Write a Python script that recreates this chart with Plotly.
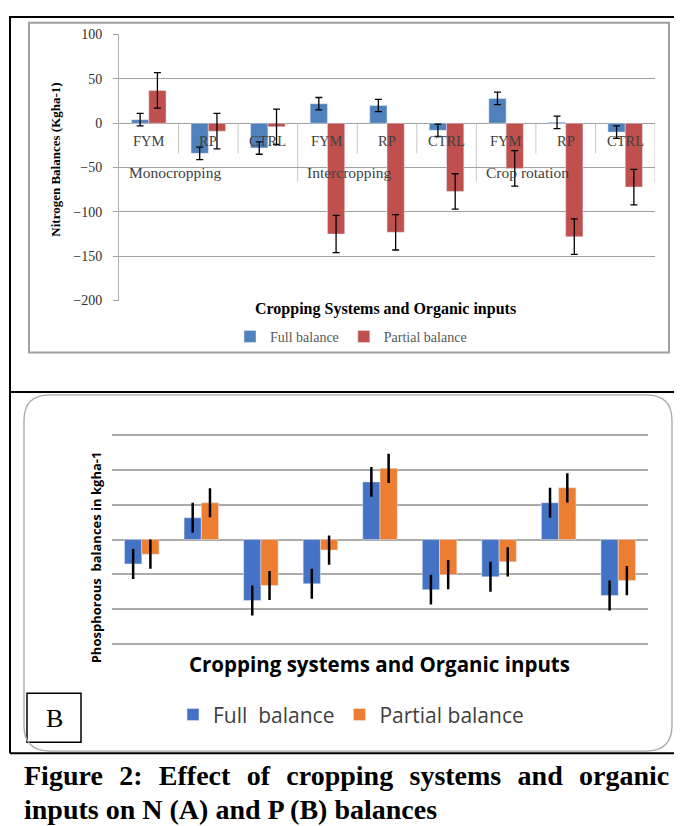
import plotly.graph_objects as go

W, H = 682, 826

# data
categories = ["FYM", "RP", "CTRL", "FYM", "RP", "CTRL", "FYM", "RP", "CTRL"]
systems = ["Monocropping", "Intercropping", "Crop rotation"]

n_full = [4, -34, -28, 22, 20, -8, 28, 1, -10]
n_full_err = [7, 7, 7, 7, 7, 7, 7, 7, 7]
n_partial = [37, -9, -4, -125, -123, -77, -51, -128, -72]
n_partial_err = [20, 20, 20, 21, 20, 20, 20, 20, 20]

p_full = [-7.0, 6.3, -17.5, -12.7, 16.6, -14.4, -10.7, 10.6, -16.1]
p_full_err = [4.3, 4.3, 4.3, 4.3, 4.3, 4.3, 4.3, 4.3, 4.3]
p_partial = [-4.2, 10.6, -13.2, -3.0, 20.5, -10.1, -6.4, 14.9, -11.8]
p_partial_err = [4.2, 4.2, 4.2, 4.2, 4.2, 4.2, 4.2, 4.2, 4.2]

# the page has an 8px body margin, so screen pixels are shifted by 8
def px(x):
    return (x - 8) / W


def py(y):
    return 1 - (y - 8) / H


SERIF = "Liberation Serif"
SANS = "Open Sans"
xs = list(range(len(categories)))

fig = go.Figure()

# panel A - nitrogen
fig.add_trace(go.Bar(x=xs, y=n_full, name="Full balance", marker_color="#4F81BD",
                     error_y=dict(type="data", array=n_full_err, color="black", thickness=1.3, width=3.5),
                     xaxis="x", yaxis="y", legend="legend"))
fig.add_trace(go.Bar(x=xs, y=n_partial, name="Partial balance", marker_color="#C0504D",
                     error_y=dict(type="data", array=n_partial_err, color="black", thickness=1.3, width=3.5),
                     xaxis="x", yaxis="y", legend="legend"))

# panel B - phosphorous
fig.add_trace(go.Bar(x=xs, y=p_full, name="Full\u00a0 balance", marker_color="#4472C4",
                     error_y=dict(type="data", array=p_full_err, color="black", thickness=2.5, width=0),
                     xaxis="x2", yaxis="y2", legend="legend2"))
fig.add_trace(go.Bar(x=xs, y=p_partial, name="Partial balance", marker_color="#ED7D31",
                     error_y=dict(type="data", array=p_partial_err, color="black", thickness=2.5, width=0),
                     xaxis="x2", yaxis="y2", legend="legend2"))

annotations = []
# category labels under zero line (panel A)
for i, lab in enumerate(categories):
    annotations.append(dict(x=i, y=0, xref="x", yref="y", text=lab, showarrow=False,
                            xanchor="center", yanchor="top", yshift=-8,
                            font=dict(family=SERIF, size=14.5, color="#404040")))
for g, name in enumerate(systems):
    annotations.append(dict(x=g * 3 - 0.5 + 0.13, y=0, xref="x", yref="y", text=name, showarrow=False,
                            xanchor="left", yanchor="top", yshift=-39,
                            font=dict(family=SERIF, size=15.5, color="#404040")))

caption1 = "Figure 2: Effect of cropping systems and"
caption1_end = "organic"
caption2 = "inputs on N (A) and P (B) balances"

# axis titles, panel letter and caption
annotations += [
    dict(x=px(56), y=py(156), text="<b>Nitrogen Balances (Kgha-1)</b>", textangle=-90,
         font=dict(family=SERIF, size=13, color="black")),
    dict(x=px(386), y=py(308), text="<b>Cropping Systems and Organic inputs</b>",
         font=dict(family=SERIF, size=16, color="black")),
    dict(x=px(96), y=py(560), text="<b>Phosphorous  balances in kgha-1</b>", textangle=-90,
         font=dict(family=SANS, size=13, color="black")),
    dict(x=px(379), y=py(668), text="<b>Cropping systems and Organic inputs</b>",
         font=dict(family=SANS, size=20.5, color="black")),
    dict(x=px(55), y=py(724), text="B", font=dict(family=SERIF, size=26, color="black")),
    dict(x=px(22), y=py(782), xanchor="left",
         text="<b>" + " \u00a0\u200a".join(caption1.split(" ")) + "</b>",
         font=dict(family=SERIF, size=28, color="black")),
    dict(x=px(671), y=py(782), xanchor="right", text="<b>" + caption1_end + "</b>",
         font=dict(family=SERIF, size=28, color="black")),
    dict(x=px(22), y=py(816), xanchor="left", text="<b>" + caption2 + "</b>",
         font=dict(family=SERIF, size=28, color="black")),
]
for a in annotations[len(categories) + len(systems):]:
    a.setdefault("xref", "paper")
    a.setdefault("yref", "paper")
    a.setdefault("xanchor", "center")
    a["yanchor"] = "middle"
    a["showarrow"] = False

shapes = []
# category separators below the zero line
for b in [0.5, 1.5, 3.5, 4.5, 6.5, 7.5]:
    shapes.append(dict(type="line", xref="x", yref="y", x0=b, x1=b, y0=0, y1=-34,
                       line=dict(color="#C8C8C8", width=1), layer="below"))
for b in [2.5, 5.5, 8.5]:
    shapes.append(dict(type="line", xref="x", yref="y", x0=b, x1=b, y0=0, y1=-66,
                       line=dict(color="#C8C8C8", width=1), layer="below"))

# frames
shapes += [
    dict(type="rect", xref="paper", yref="paper", x0=px(10), x1=px(700), y0=py(392), y1=py(11),
         line=dict(color="black", width=2)),
    dict(type="line", xref="paper", yref="paper", x0=px(10), x1=px(10), y0=py(759), y1=py(392),
         line=dict(color="black", width=2)),
    dict(type="line", xref="paper", yref="paper", x0=px(10), x1=px(700), y0=py(759), y1=py(759),
         line=dict(color="black", width=2)),
    dict(type="rect", xref="paper", yref="paper", x0=px(29), x1=px(669), y0=py(352), y1=py(17),
         line=dict(color="#A0A0A0", width=2)),
    dict(type="rect", xref="paper", yref="paper", x0=px(27), x1=px(81), y0=py(748), y1=py(698),
         line=dict(color="black", width=1.5)),
]

# rounded frame of panel B
x0, x1, y0, y1, r = 24, 672, 395, 757, 26
path = (f"M {px(x0 + r)} {py(y0)} L {px(x1 - r)} {py(y0)} "
        f"Q {px(x1)} {py(y0)} {px(x1)} {py(y0 + r)} L {px(x1)} {py(y1 - r)} "
        f"Q {px(x1)} {py(y1)} {px(x1 - r)} {py(y1)} L {px(x0 + r)} {py(y1)} "
        f"Q {px(x0)} {py(y1)} {px(x0)} {py(y1 - r)} L {px(x0)} {py(y0 + r)} "
        f"Q {px(x0)} {py(y0)} {px(x0 + r)} {py(y0)} Z")
shapes.append(dict(type="path", xref="paper", yref="paper", path=path,
                   line=dict(color="#A6A6A6", width=1.3)))

fig.update_layout(
    width=W, height=H,
    margin=dict(l=0, r=0, t=0, b=0),
    paper_bgcolor="white", plot_bgcolor="white",
    barmode="group", bargap=0.42, bargroupgap=0,
    xaxis=dict(domain=[px(119), px(655)], range=[-0.5, 8.5], showticklabels=False,
               showgrid=False, zeroline=False, showline=False, anchor="y"),
    yaxis=dict(domain=[py(300), py(28)], range=[-201, 101], tickvals=[-200, -150, -100, -50, 0, 50, 100],
               showgrid=True, gridcolor="#A0A0A0", gridwidth=1, zeroline=True, zerolinecolor="#A0A0A0",
               zerolinewidth=1, showline=True, linecolor="#B0B0B0", ticks="outside", ticklen=5,
               tickcolor="#A0A0A0", ticklabelstandoff=8,
               tickfont=dict(family=SERIF, size=14, color="#303030"), anchor="x"),
    xaxis2=dict(domain=[px(112), px(648)], range=[-0.5, 8.5], showticklabels=False,
                showgrid=False, zeroline=False, showline=False, anchor="y2"),
    yaxis2=dict(domain=[py(651.5), py(432.5)], range=[-31, 31], tickvals=[-30, -20, -10, 0, 10, 20, 30],
                showticklabels=False, showgrid=True, gridcolor="#ABABAB", gridwidth=1.6,
                zeroline=False, showline=False, anchor="x2"),
    legend=dict(orientation="h", x=px(351), y=py(336), xanchor="center", yanchor="middle",
                font=dict(family=SERIF, size=14, color="#595959"), bgcolor="rgba(0,0,0,0)",
                itemwidth=30),
    legend2=dict(orientation="h", x=px(351), y=py(720), xanchor="center", yanchor="middle",
                 font=dict(family=SANS, size=21, color="#404040"), bgcolor="rgba(0,0,0,0)",
                 itemwidth=30),
    annotations=annotations,
    shapes=shapes,
)

fig.write_html("out.html")
